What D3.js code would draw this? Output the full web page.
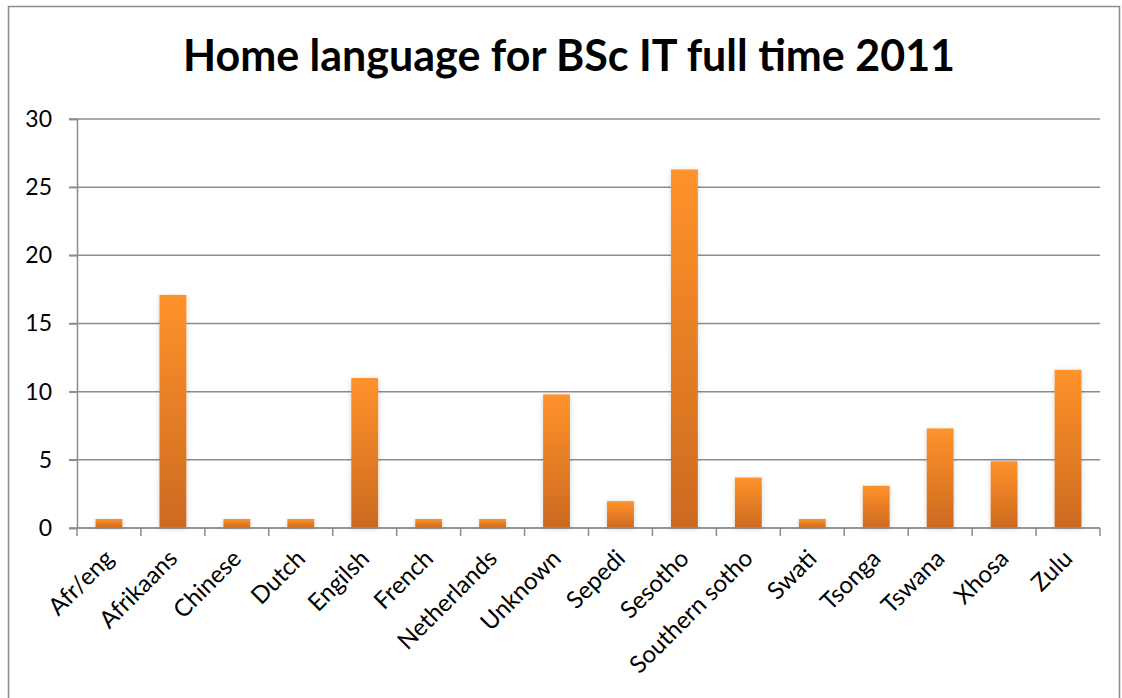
<!DOCTYPE html>
<html>
<head>
<meta charset="UTF-8">
<style>
  body { margin: 0; background: #fff; }
  svg text { font-family: Lato, 'Open Sans', sans-serif; }
</style>
</head>
<body>
<div id="chart"></div>
<script src="https://cdnjs.cloudflare.com/ajax/libs/d3/7.8.5/d3.min.js"></script>
<script>
const languages = ["Afr/eng", "Afrikaans", "Chinese", "Dutch", "Engilsh", "French", "Netherlands",
  "Unknown", "Sepedi", "Sesotho", "Southern sotho", "Swati", "Tsonga", "Tswana", "Xhosa", "Zulu"];
const values = [0.66, 17.1, 0.66, 0.66, 11.0, 0.66, 0.66, 9.8, 1.97, 26.3, 3.7, 0.66, 3.1, 7.3, 4.9, 11.6];
const yTicks = [0, 5, 10, 15, 20, 25, 30];

const W = 1122, H = 698;
const margin = { top: 119, right: 22, bottom: 170, left: 77 };
const width = W - margin.left - margin.right;
const height = H - margin.top - margin.bottom;

const svg = d3.select("#chart").append("svg")
  .attr("width", W).attr("height", H);

// outer chart border
svg.append("rect")
  .attr("x", 8.5).attr("y", 6.5)
  .attr("width", 1111).attr("height", 700)
  .attr("fill", "none").attr("stroke", "#8c8c8c").attr("stroke-width", 1.5);

const defs = svg.append("defs");
const grad = defs.append("linearGradient")
  .attr("id", "barGrad").attr("x1", 0).attr("y1", 0).attr("x2", 0).attr("y2", 1);
grad.append("stop").attr("offset", "0%").attr("stop-color", "#ff922b");
grad.append("stop").attr("offset", "100%").attr("stop-color", "#cc6a20");

const shadow = defs.append("filter").attr("id", "shadow")
  .attr("x", "-30%").attr("y", "-10%").attr("width", "160%").attr("height", "130%");
shadow.append("feDropShadow").attr("dx", 0).attr("dy", 1).attr("stdDeviation", 2.5)
  .attr("flood-color", "#000").attr("flood-opacity", 0.18);

svg.append("text")
  .attr("x", 569).attr("y", 71)
  .attr("text-anchor", "middle")
  .style("font-size", "43px").style("font-weight", "bold")
  .text("Home language for BSc IT full time 2011");

const g = svg.append("g").attr("transform", `translate(${margin.left},${margin.top})`);

const x = d3.scaleBand().domain(languages).range([0, width]).paddingInner(0.58).paddingOuter(0.29);
const y = d3.scaleLinear().domain([0, 30]).range([height, 0]);

// gridlines
g.append("g").selectAll("line").data(yTicks).join("line")
  .attr("x1", -8).attr("x2", width)
  .attr("y1", d => y(d)).attr("y2", d => y(d))
  .attr("stroke", "#8c8c8c").attr("stroke-width", 1.5);

// y axis
const yAxis = g.append("g")
  .call(d3.axisLeft(y).tickValues(yTicks).tickSize(8).tickPadding(17));
yAxis.select(".domain").attr("stroke", "#8c8c8c").attr("stroke-width", 1.5);
yAxis.selectAll(".tick line").attr("stroke", "#8c8c8c").attr("stroke-width", 1.5);
yAxis.selectAll("text").style("font-size", "23px").style("font-family", "Lato").attr("fill", "#000");

// bars
g.append("g").selectAll("rect").data(values).join("rect")
  .attr("x", (d, i) => x(languages[i]))
  .attr("y", d => y(d))
  .attr("width", x.bandwidth())
  .attr("height", d => height - y(d))
  .attr("fill", "url(#barGrad)")
  .attr("filter", "url(#shadow)");

// x axis with ticks at category boundaries
const xa = g.append("g").attr("transform", `translate(0,${height})`);
xa.append("line").attr("x1", 0).attr("x2", width)
  .attr("stroke", "#8c8c8c").attr("stroke-width", 1.5);
xa.selectAll("line.tk").data(d3.range(languages.length + 1)).join("line")
  .attr("class", "tk")
  .attr("x1", i => i * width / languages.length).attr("x2", i => i * width / languages.length)
  .attr("y1", 0).attr("y2", 8)
  .attr("stroke", "#8c8c8c").attr("stroke-width", 1.5);
xa.selectAll("text").data(languages).join("text")
  .attr("transform", d => `translate(${x(d) + x.bandwidth() / 2 + 6},${32}) rotate(-45)`)
  .attr("text-anchor", "end")
  .style("font-size", "24px")
  .text(d => d);
</script>
</body>
</html>
